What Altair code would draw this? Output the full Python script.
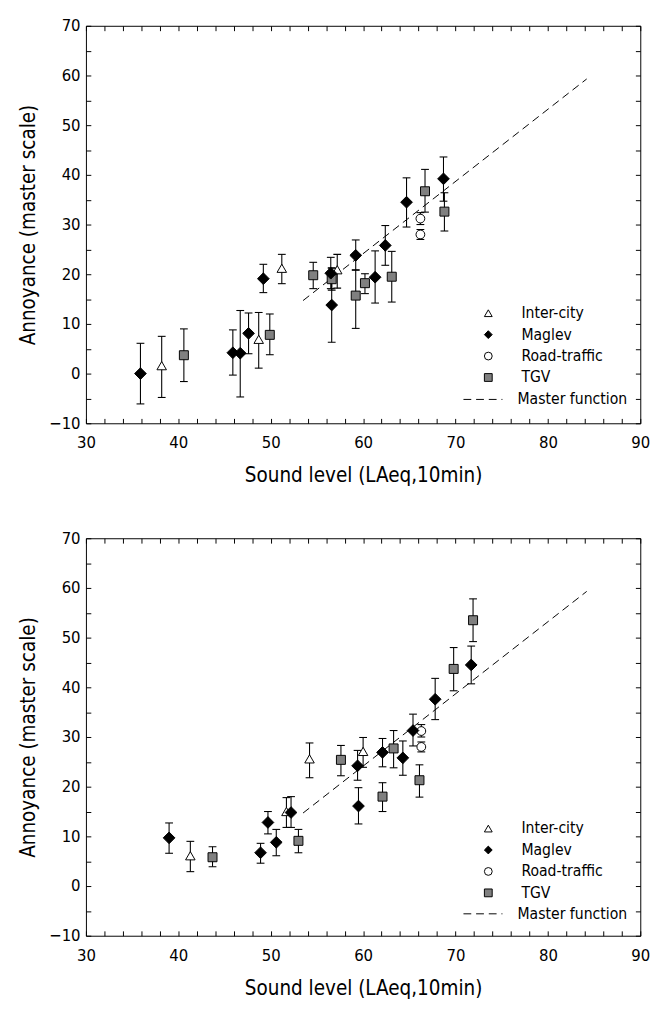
import altair as alt
import pandas as pd

FONT = "DejaVu Sans Condensed, Liberation Sans, sans-serif"
SOURCES = ["Inter-city", "Maglev", "Road-traffic", "TGV"]
SHAPES = ["triangle-up", "diamond", "circle", "square"]
FILLS = ["white", "black", "white", "#808080"]
MARK_SIZE = {"TGV": 85, "Inter-city": 95, "Road-traffic": 81, "Maglev": 144}
DRAW_ORDER = ["TGV", "Inter-city", "Road-traffic", "Maglev"]

# ---- top panel ----
top_src = (["TGV"] * 9 + ["Inter-city"] * 4 + ["Road-traffic"] * 2 + ["Maglev"] * 12)
top_x = [40.6, 49.9, 54.6, 56.6, 59.2, 60.2, 63.1, 66.7, 68.8,
         38.2, 48.7, 51.2, 57.2,
         66.2, 66.2,
         35.9, 45.9, 46.7, 47.6, 49.2, 56.5, 56.6, 59.2, 61.3, 62.4, 64.7, 68.7]
top_y = [3.7, 7.8, 19.8, 19.0, 15.7, 18.2, 19.5, 36.7, 32.6,
         1.6, 6.9, 21.2, 20.9,
         31.2, 28.0,
         0.0, 4.2, 4.1, 8.1, 19.1, 20.2, 13.8, 23.8, 19.4, 25.8, 34.5, 39.2]
top_lo = [-1.6, 3.8, 17.1, 16.8, 9.1, 16.1, 14.4, 32.5, 28.7,
          -4.8, 1.1, 18.1, 17.2,
          30.0, 27.0,
          -6.1, -0.3, -4.7, 4.0, 16.3, 17.1, 6.3, 20.8, 14.2, 21.8, 29.5, 34.7]
top_hi = [9.0, 12.0, 22.4, 21.2, 20.9, 20.1, 24.6, 41.1, 36.4,
          7.5, 12.3, 24.0, 24.0,
          32.4, 29.0,
          6.1, 8.8, 12.7, 12.2, 22.0, 23.4, 21.3, 26.9, 24.7, 29.8, 39.4, 43.6]

# ---- bottom panel ----
bot_src = (["TGV"] * 8 + ["Inter-city"] * 4 + ["Road-traffic"] * 2 + ["Maglev"] * 12)
bot_x = [43.7, 53.0, 57.6, 62.1, 63.3, 66.1, 69.8, 71.9,
         41.3, 51.7, 54.2, 60.0,
         66.3, 66.3,
         39.0, 48.9, 49.7, 50.6, 52.2, 59.4, 59.5, 62.1, 64.3, 65.4, 67.8, 71.7]
bot_y = [5.8, 9.1, 25.4, 18.0, 27.7, 21.3, 43.7, 53.5,
         6.1, 15.0, 25.6, 27.1,
         31.2, 28.0,
         9.7, 6.7, 12.8, 8.8, 14.8, 24.2, 16.1, 26.9, 25.8, 31.3, 37.6, 44.5]
bot_lo = [3.9, 6.7, 22.2, 15.0, 23.8, 17.9, 39.3, 49.2,
          2.9, 11.8, 21.8, 23.9,
          30.0, 27.0,
          6.6, 4.6, 10.5, 6.1, 11.8, 21.3, 12.5, 24.0, 22.3, 28.2, 33.5, 40.7]
bot_hi = [7.9, 11.4, 28.3, 20.8, 31.3, 24.4, 48.0, 57.8,
          9.0, 17.8, 28.8, 29.9,
          32.5, 29.0,
          12.7, 8.6, 15.0, 11.4, 18.0, 27.3, 19.8, 29.7, 29.2, 34.6, 41.8, 48.3]

# ---- master function ----
master_x = [53.5, 84.2]
master_y = [14.7, 59.3]
master_name = ["Master function", "Master function"]

XVALS = list(range(30, 91, 2))
YVALS = list(range(-10, 71, 5))
LBL = "datum.value % 10 === 0 ? datum.label : ''"

xs = alt.Scale(domain=[30, 90], nice=False, zero=False)
ys = alt.Scale(domain=[-10, 70], nice=False, zero=False)

tick_common = dict(domain=False, grid=False, tickSize=5, tickColor="black",
                   tickWidth=1, offset=-5, minExtent=0)
lab_common = dict(labelFont=FONT, labelFontSize=17, labelColor="black",
                  labelOverlap=False, labelFlush=False, labelExpr=LBL)

x_bottom = alt.Axis(values=XVALS, orient="bottom", labelPadding=12,
                    title="Sound level (LAeq,10min)", titleFont=FONT,
                    titleFontSize=21, titleFontWeight="normal",
                    titleColor="black", titlePadding=15,
                    **tick_common, **lab_common)
x_top = alt.Axis(values=XVALS, orient="top", labels=False, title=None,
                 maxExtent=0, **tick_common)
y_left = alt.Axis(values=YVALS, orient="left", labelPadding=6,
                  title="Annoyance (master scale)", titleFont=FONT,
                  titleFontSize=21, titleFontWeight="normal",
                  titleColor="black", titlePadding=10,
                  **tick_common, **lab_common)
y_right = alt.Axis(values=YVALS, orient="right", labels=False, title=None,
                   maxExtent=0, **tick_common)


def panel(src, x, y, lo, hi, leg_y1, leg_y2):
    df = pd.DataFrame({"src": src, "x": x, "y": y, "lo": lo, "hi": hi})
    ldf = pd.DataFrame({"x": master_x, "y": master_y, "series": master_name})

    bars = alt.Chart(df).mark_rule(color="black", strokeWidth=1.1).encode(
        x=alt.X("x:Q", scale=xs, axis=None),
        y=alt.Y("lo:Q", scale=ys, axis=None),
        y2="hi:Q",
    )
    cap_lo = alt.Chart(df).mark_tick(color="black", orient="horizontal",
                                     size=8, thickness=1.1, opacity=1).encode(
        x=alt.X("x:Q", scale=xs, axis=None),
        y=alt.Y("lo:Q", scale=ys, axis=None),
    )
    cap_hi = alt.Chart(df).mark_tick(color="black", orient="horizontal",
                                     size=8, thickness=1.1, opacity=1).encode(
        x=alt.X("x:Q", scale=xs, axis=None),
        y=alt.Y("hi:Q", scale=ys, axis=None),
    )
    line = alt.Chart(ldf).mark_line(color="black", strokeWidth=1).encode(
        x=alt.X("x:Q", scale=xs, axis=x_top),
        y=alt.Y("y:Q", scale=ys, axis=y_right),
        strokeDash=alt.StrokeDash(
            "series:N",
            scale=alt.Scale(domain=["Master function"], range=[[8, 5]]),
            legend=alt.Legend(title=None, orient="none", legendX=387,
                              legendY=leg_y2, labelFont=FONT,
                              labelFontSize=16, labelColor="black",
                              symbolType="stroke", symbolSize=1600,
                              symbolStrokeColor="black",
                              symbolStrokeWidth=1, labelOffset=15),
        ),
    )
    leg = alt.Legend(title=None, orient="none", legendX=405, legendY=leg_y1,
                     labelFont=FONT, labelFontSize=16, labelColor="black",
                     symbolSize=64, symbolStrokeColor="black",
                     symbolStrokeWidth=1, labelOffset=26, rowPadding=6,
                     symbolOpacity=1)
    pt_layers = []
    for s in DRAW_ORDER:
        pt_layers.append(
            alt.Chart(df).transform_filter(alt.datum.src == s)
            .mark_point(filled=True, strokeWidth=1, opacity=1,
                        size=MARK_SIZE[s])
            .encode(
                x=alt.X("x:Q", scale=xs, axis=x_bottom if s == "TGV" else None),
                y=alt.Y("y:Q", scale=ys, axis=y_left if s == "TGV" else None),
                shape=alt.Shape("src:N",
                                scale=alt.Scale(domain=SOURCES, range=SHAPES),
                                legend=leg),
                fill=alt.Fill("src:N",
                              scale=alt.Scale(domain=SOURCES, range=FILLS),
                              legend=leg),
                stroke=alt.Stroke("src:N",
                                  scale=alt.Scale(domain=SOURCES,
                                                  range=["black"] * 4),
                                  legend=leg),
            )
        )
    return (alt.layer(bars, cap_lo, cap_hi, line, *pt_layers)
            .resolve_axis(x="independent", y="independent")
            .properties(width=569, height=408))


top = panel(top_src, top_x, top_y, top_lo, top_hi, 287, 363)
bottom = panel(bot_src, bot_x, bot_y, bot_lo, bot_hi, 290, 365)

chart = (alt.vconcat(top, bottom, spacing=43)
         .resolve_scale(x="independent", y="independent", shape="independent",
                        fill="independent", stroke="independent",
                        strokeDash="independent")
         .properties(padding={"left": 10, "top": -5, "right": 0, "bottom": 0},
                     background="white")
         .configure_view(stroke="black", strokeWidth=1, fill="white"))

chart.save("out.html", embed_options={"renderer": "svg", "actions": False})
